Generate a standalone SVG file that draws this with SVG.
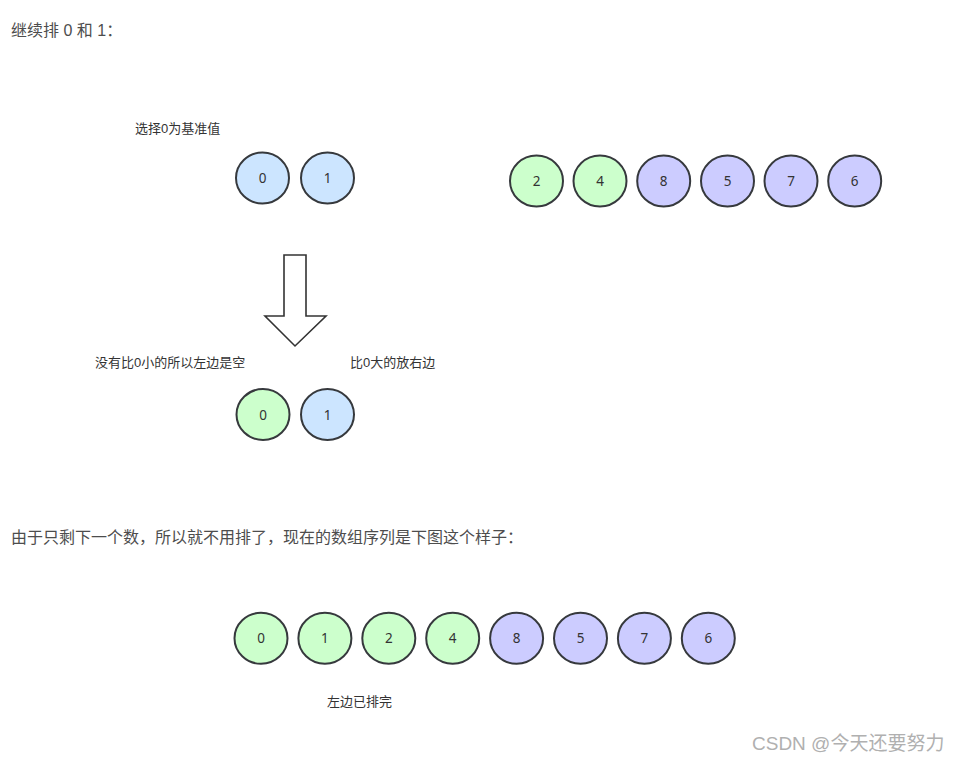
<svg xmlns="http://www.w3.org/2000/svg" width="956" height="762" viewBox="0 0 956 762">
<style>
.t{font-family:"Liberation Sans","Noto Sans CJK SC",sans-serif;}
.body{font-size:16px;fill:#4d4d4d;}
.note{font-size:13px;fill:#333;}
.n ellipse{stroke:#36393d;stroke-width:2;}
.blue{fill:#cce5ff;}
.green{fill:#ccffcc;}
.purple{fill:#ccccff;}
.lbl{font-family:"Noto Sans","Liberation Sans",sans-serif;font-size:13.5px;fill:#333;text-anchor:middle;}
.wm{font-size:19px;fill:#b0b0b0;}
</style>
<rect width="956" height="762" fill="#fff"/>
<text class="t body" x="11" y="36">继续排 0 和 1：</text>
<text class="t note" x="135" y="133">选择0为基准值</text>

<g id="top-0" class="n"><ellipse class="blue" cx="262.5" cy="178" rx="26.5" ry="25.5"/><text class="lbl" x="262.5" y="183">0</text></g>
<g id="top-1" class="n"><ellipse class="blue" cx="327.5" cy="178" rx="26.5" ry="25.5"/><text class="lbl" x="327.5" y="183">1</text></g>

<g id="r-2" class="n"><ellipse class="green" cx="536.5" cy="181" rx="26.5" ry="25.5"/><text class="lbl" x="536.5" y="186">2</text></g>
<g id="r-4" class="n"><ellipse class="green" cx="600" cy="181" rx="26.5" ry="25.5"/><text class="lbl" x="600" y="186">4</text></g>
<g id="r-8" class="n"><ellipse class="purple" cx="663.7" cy="181" rx="26.5" ry="25.5"/><text class="lbl" x="663.7" y="186">8</text></g>
<g id="r-5" class="n"><ellipse class="purple" cx="727.5" cy="181" rx="26.5" ry="25.5"/><text class="lbl" x="727.5" y="186">5</text></g>
<g id="r-7" class="n"><ellipse class="purple" cx="791" cy="181" rx="26.5" ry="25.5"/><text class="lbl" x="791" y="186">7</text></g>
<g id="r-6" class="n"><ellipse class="purple" cx="854.7" cy="181" rx="26.5" ry="25.5"/><text class="lbl" x="854.7" y="186">6</text></g>

<g id="connectors">
<polygon points="284,255 306,255 306,316 326,316 295,346 265,316 284,316" fill="#fff" stroke="#333" stroke-width="1.6" stroke-linejoin="miter"/>
</g>

<text class="t note" x="95" y="367">没有比0小的所以左边是空</text>
<text class="t note" x="350" y="367">比0大的放右边</text>

<g id="mid-0" class="n"><ellipse class="green" cx="263" cy="414.5" rx="26.5" ry="25.5"/><text class="lbl" x="263" y="419.5">0</text></g>
<g id="mid-1" class="n"><ellipse class="blue" cx="327.5" cy="414.5" rx="26.5" ry="25.5"/><text class="lbl" x="327.5" y="419.5">1</text></g>

<text class="t body" x="11" y="543">由于只剩下一个数，所以就不用排了，现在的数组序列是下图这个样子：</text>

<g id="b-0" class="n"><ellipse class="green" cx="261" cy="638.3" rx="26.5" ry="25.5"/><text class="lbl" x="261" y="643.3">0</text></g>
<g id="b-1" class="n"><ellipse class="green" cx="324.9" cy="638.3" rx="26.5" ry="25.5"/><text class="lbl" x="324.9" y="643.3">1</text></g>
<g id="b-2" class="n"><ellipse class="green" cx="388.8" cy="638.3" rx="26.5" ry="25.5"/><text class="lbl" x="388.8" y="643.3">2</text></g>
<g id="b-4" class="n"><ellipse class="green" cx="452.7" cy="638.3" rx="26.5" ry="25.5"/><text class="lbl" x="452.7" y="643.3">4</text></g>
<g id="b-8" class="n"><ellipse class="purple" cx="516.6" cy="638.3" rx="26.5" ry="25.5"/><text class="lbl" x="516.6" y="643.3">8</text></g>
<g id="b-5" class="n"><ellipse class="purple" cx="580.5" cy="638.3" rx="26.5" ry="25.5"/><text class="lbl" x="580.5" y="643.3">5</text></g>
<g id="b-7" class="n"><ellipse class="purple" cx="644.4" cy="638.3" rx="26.5" ry="25.5"/><text class="lbl" x="644.4" y="643.3">7</text></g>
<g id="b-6" class="n"><ellipse class="purple" cx="708.3" cy="638.3" rx="26.5" ry="25.5"/><text class="lbl" x="708.3" y="643.3">6</text></g>

<text class="t note" x="327" y="706">左边已排完</text>
<text class="t wm" x="752" y="750">CSDN @今天还要努力</text>
</svg>
